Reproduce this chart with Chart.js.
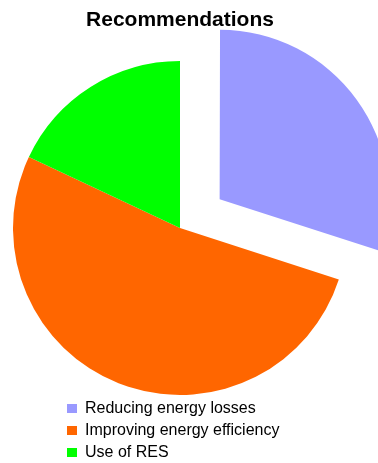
<!DOCTYPE html>
<html>
<head>
<meta charset="utf-8">
<script src="https://cdn.jsdelivr.net/npm/chart.js@4/dist/chart.umd.min.js"></script>
<style>
  html, body { margin: 0; padding: 0; background: #fff; }
  #wrap { width: 378px; height: 463px; }
</style>
</head>
<body>
<div id="wrap"><canvas id="canvas1" width="378" height="463"></canvas></div>
<script>
var labels = ["Reducing energy losses", "Improving energy efficiency", "Use of RES"];
var values = [30, 52, 18];
var colors = ["#9999FF", "#FF6600", "#00FF00"];
// Chart.js draws offset/4, so 196 -> ~49px explode
var explode = [196, 0, 0];

try {
  new Chart(document.getElementById("canvas1"), {
    type: 'pie',
    data: {
      labels: labels,
      datasets: [{
        data: values,
        backgroundColor: colors,
        borderWidth: 0,
        offset: explode,
        hoverOffset: 0
      }]
    },
    options: {
      responsive: false,
      animation: false,
      radius: 167,
      layout: {
        padding: { top: 0, left: 61, right: 79, bottom: -7.5 }
      },
      plugins: {
        title: {
          display: true,
          text: 'Recommendations',
          color: '#000',
          font: { family: "'Liberation Sans', Arial, sans-serif", size: 21, weight: 'bold', lineHeight: 1.2 },
          padding: { top: 7.4, bottom: 28.9 }
        },
        legend: {
          position: 'bottom',
          align: 'start',
          labels: {
            color: '#000',
            boxWidth: 10,
            boxHeight: 9,
            padding: 6,
            font: { family: "'Liberation Sans', Arial, sans-serif", size: 16 }
          }
        },
        tooltip: { enabled: false }
      }
    }
  });
}
catch(err){
  console.log(err);
}
</script>
</body>
</html>
